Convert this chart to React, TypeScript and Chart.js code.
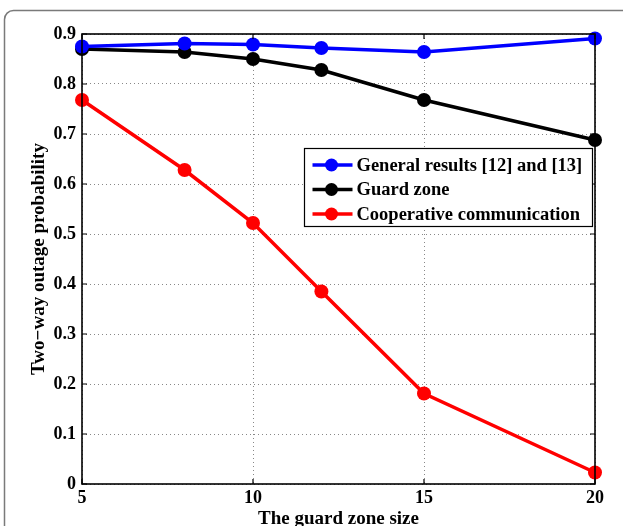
import React, { useEffect, useRef } from "react";
import { Chart, registerables } from "chart.js";

Chart.register(...registerables);

const guardZoneSizes = [5, 8, 10, 12, 15, 20];
const generalResults = [0.875, 0.881, 0.879, 0.872, 0.864, 0.891];
const guardZone = [0.87, 0.864, 0.85, 0.828, 0.768, 0.688];
const cooperative = [0.768, 0.628, 0.522, 0.385, 0.181, 0.023];
const seriesLabels = ["General results [12] and [13]", "Guard zone", "Cooperative communication"];
const seriesColors = ["#0000ff", "#000000", "#ff0000"];
const xTicks = [5, 10, 15, 20];
const yTicks = [0, 0.1, 0.2, 0.3, 0.4, 0.5, 0.6, 0.7, 0.8, 0.9];

const FONT = "'Liberation Serif', 'Times New Roman', serif";

const framePlugin = {
  id: "frame",
  beforeDraw(chart: any) {
    const ctx = chart.ctx;
    ctx.save();
    ctx.fillStyle = "#ffffff";
    ctx.fillRect(0, 0, chart.width, chart.height);
    ctx.strokeStyle = "#7a7a7a";
    ctx.lineWidth = 1.5;
    const x = 4.5, y = 10.5, r = 9;
    ctx.beginPath();
    ctx.moveTo(x, chart.height + 20);
    ctx.lineTo(x, y + r);
    ctx.arcTo(x, y, x + r, y, r);
    ctx.lineTo(chart.width + 20, y);
    ctx.stroke();
    ctx.restore();
  },
  afterDatasetsDraw(chart: any) {
    const ctx = chart.ctx;
    const { left, right, top, bottom } = chart.chartArea;
    const xs = chart.scales.x;
    const ys = chart.scales.y;
    ctx.save();
    ctx.strokeStyle = "#000";
    ctx.lineWidth = 1.6;
    ctx.strokeRect(left, top, right - left, bottom - top);
    ctx.lineWidth = 1.2;
    const tl = 5;
    ctx.beginPath();
    xTicks.forEach((v) => {
      const px = xs.getPixelForValue(v);
      ctx.moveTo(px, bottom);
      ctx.lineTo(px, bottom - tl);
      ctx.moveTo(px, top);
      ctx.lineTo(px, top + tl);
    });
    yTicks.forEach((v) => {
      const py = ys.getPixelForValue(v);
      ctx.moveTo(left, py);
      ctx.lineTo(left + tl, py);
      ctx.moveTo(right, py);
      ctx.lineTo(right - tl, py);
    });
    ctx.stroke();
    ctx.restore();
  },
  afterDraw(chart: any) {
    const ctx = chart.ctx;
    const bx = 304.5, by = 148.5, bw = 288, bh = 78;
    ctx.save();
    ctx.fillStyle = "#ffffff";
    ctx.fillRect(bx, by, bw, bh);
    ctx.strokeStyle = "#000";
    ctx.lineWidth = 1.2;
    ctx.strokeRect(bx, by, bw, bh);
    ctx.font = `bold 18.5px ${FONT}`;
    ctx.textBaseline = "middle";
    chart.data.datasets.forEach((ds: any, i: number) => {
      const cy = by + 16.5 + i * 24.5;
      ctx.strokeStyle = ds.borderColor;
      ctx.lineWidth = 3.5;
      ctx.beginPath();
      ctx.moveTo(bx + 8, cy);
      ctx.lineTo(bx + 48, cy);
      ctx.stroke();
      ctx.fillStyle = ds.backgroundColor;
      ctx.beginPath();
      ctx.arc(bx + 27, cy, 6.5, 0, Math.PI * 2);
      ctx.fill();
      ctx.fillStyle = "#000";
      ctx.fillText(ds.label, bx + 52, cy + 1);
    });
    ctx.restore();
  },
};

export default function App() {
  const ref = useRef<HTMLCanvasElement>(null);
  useEffect(() => {
    if (!ref.current) return;
    const mk = (i: number, vals: number[]) => ({
      label: seriesLabels[i],
      data: guardZoneSizes.map((x, k) => ({ x, y: vals[k] })),
      borderColor: seriesColors[i],
      backgroundColor: seriesColors[i],
      pointBackgroundColor: seriesColors[i],
      pointBorderColor: seriesColors[i],
      borderWidth: 3.5,
      pointRadius: 7,
      pointBorderWidth: 0,
      tension: 0,
      clip: false as any,
    });
    const chart = new Chart(ref.current, {
      type: "line",
      data: {
        datasets: [mk(0, generalResults), mk(1, guardZone), mk(2, cooperative)],
      },
      options: {
        responsive: false,
        animation: false,
        layout: { padding: { left: 28, right: 28, top: 34, bottom: 0 } },
        plugins: { legend: { display: false }, tooltip: { enabled: false } },
        scales: {
          x: {
            type: "linear",
            min: 5,
            max: 20,
            afterFit: (s: any) => {
              s.height = 42;
            },
            afterBuildTicks: (s: any) => {
              s.ticks = xTicks.map((v) => ({ value: v }));
            },
            ticks: {
              padding: 4,
              color: "#000",
              font: { family: FONT, size: 18, weight: "bold" },
              maxRotation: 0,
            },
            grid: {
              drawTicks: false,
              color: "#888",
              lineWidth: 1,
            },
            border: { display: false, dash: [1, 3] },
            title: {
              display: true,
              text: "The guard zone size",
              color: "#000",
              font: { family: FONT, size: 19, weight: "bold" },
              padding: { top: 0, bottom: -4 },
            },
          } as any,
          y: {
            type: "linear",
            min: 0,
            max: 0.9,
            afterFit: (s: any) => {
              s.width = 54;
            },
            afterBuildTicks: (s: any) => {
              s.ticks = yTicks.map((v) => ({ value: v }));
            },
            ticks: {
              padding: 6,
              color: "#000",
              font: { family: FONT, size: 18, weight: "bold" },
              callback: (v: any) => String(Math.round(Number(v) * 10) / 10),
            },
            grid: {
              drawTicks: false,
              color: "#888",
              lineWidth: 1,
            },
            border: { display: false, dash: [1, 3] },
            title: {
              display: true,
              text: "Two−way outage probability",
              color: "#000",
              font: { family: FONT, size: 19, weight: "bold" },
              padding: { top: 0, bottom: 0 },
            },
          } as any,
        },
      },
      plugins: [framePlugin],
    });
    return () => chart.destroy();
  }, []);
  return (
    <div style={{ position: "absolute", left: 0, top: 0, width: 623, height: 526 }}>
      <canvas ref={ref} width={623} height={526} style={{ display: "block" }} />
    </div>
  );
}
